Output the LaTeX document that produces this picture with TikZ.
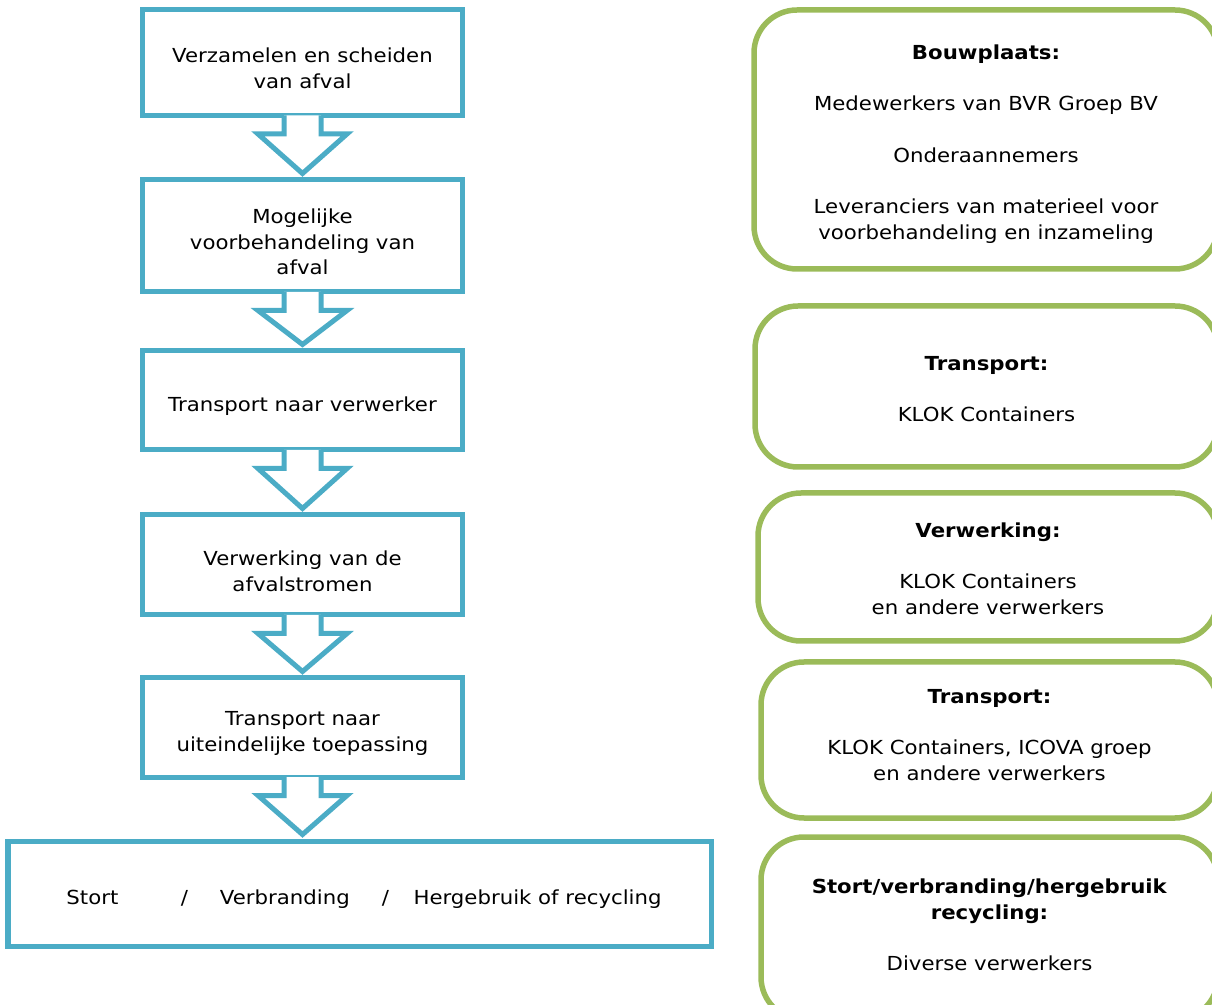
\documentclass[tikz,border=0pt]{standalone}
\usepackage{fontspec}
\setmainfont{DejaVu Sans}[FakeStretch=1.1]
\usepackage{xcolor}
\usetikzlibrary{calc, positioning}

\definecolor{blauw}{HTML}{4BACC6}
\definecolor{groen}{HTML}{9BBB59}

\tikzset{
    stap/.style={draw=blauw, line width=0.1cm, fill=white, inner sep=0pt, minimum width=6.4cm},
    tekst/.style={inner sep=0pt, align=center, yshift=-0.12cm, font=\fontsize{11}{14.6}\selectfont},
    partij/.style={draw=groen, line width=0.11cm, rounded corners=0.86cm, inner sep=0pt},
    pijl/.style={draw=blauw, line width=0.1cm, fill=white, line join=miter}
}

\begin{document}
\begin{tikzpicture}[scale=1]
        \clip (0,0) rectangle (24.24,-20.1);
        % stappen links
        \node[stap, minimum height=2.12cm, label={[tekst]center:{Verzamelen en scheiden\\van afval}}] (b1) at (6.05,-1.25) {};
        \node[stap, minimum height=2.24cm, label={[tekst]center:{Mogelijke\\voorbehandeling van\\afval}}] (b2) at (6.05,-4.72) {};
        \node[stap, minimum height=1.98cm, label={[tekst]center:{Transport naar verwerker}}] (b3) at (6.05,-8.01) {};
        \node[stap, minimum height=2.0cm, label={[tekst]center:{Verwerking van de\\afvalstromen}}] (b4) at (6.05,-11.3) {};
        \node[stap, minimum height=1.98cm, label={[tekst]center:{Transport naar\\uiteindelijke toepassing}}] (b5) at (6.05,-14.55) {};
        \node[stap, minimum width=14.06cm, minimum height=2.1cm,
            label={[tekst, xshift=0.09cm]center:{Stort\hspace{1.25cm}/\hspace{0.64cm}Verbranding\hspace{0.64cm}/\hspace{0.49cm}Hergebruik of recycling}}] (eind) at (7.19,-17.87) {};
        % pijlen
        \foreach \a/\b in {b1/b2, b2/b3, b3/b4, b4/b5, b5/eind}{
            \filldraw[pijl] ($(\a.south)+(-0.37,0.05)$) -- ++(0,-0.37) -- ++(-0.52,0)
                -- ($(\a.south |- \b.north)+(0,0.08)$) -- ($(\a.south)+(0.89,-0.32)$)
                -- ++(-0.52,0) -- ++(0,0.37);
        }
        % partijen rechts
        \node[partij, minimum width=9.28cm, minimum height=5.18cm,
            label={[tekst, yshift=0.03cm]center:{\textbf{Bouwplaats:}\\[14.6pt]Medewerkers van BVR Groep BV\\[14.6pt]Onderaannemers\\[14.6pt]Leveranciers van materieel voor\\voorbehandeling en inzameling}}] (g1) at (19.72,-2.79) {};
        \node[partij, minimum width=9.26cm, minimum height=3.22cm,
            label={[tekst, yshift=0.07cm]center:{\textbf{Transport:}\\[14.6pt]KLOK Containers}}] (g2) at (19.73,-7.73) {};
        \node[partij, minimum width=9.2cm, minimum height=2.96cm,
            label={[tekst, yshift=0.09cm]center:{\textbf{Verwerking:}\\[14.6pt]KLOK Containers\\en andere verwerkers}}] (g3) at (19.76,-11.34) {};
        \node[partij, minimum width=9.14cm, minimum height=3.12cm,
            label={[tekst, yshift=0.22cm]center:{\textbf{Transport:}\\[14.6pt]KLOK Containers, ICOVA groep\\en andere verwerkers}}] (g4) at (19.79,-14.8) {};
        \node[partij, minimum width=9.14cm, minimum height=3.66cm,
            label={[tekst, yshift=0.19cm]center:{\textbf{Stort/verbranding/hergebruik}\\\textbf{recycling:}\\[14.6pt]Diverse verwerkers}}] (g5) at (19.79,-18.57) {};
\end{tikzpicture}
\end{document}
